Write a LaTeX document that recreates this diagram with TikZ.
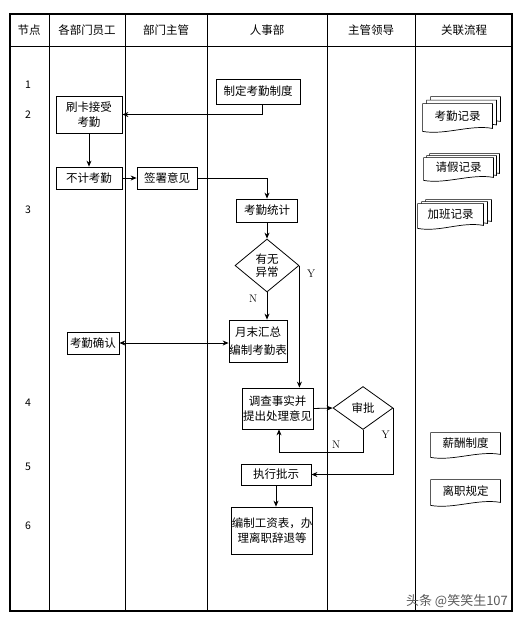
\documentclass[tikz,border=0pt]{standalone}
\usepackage{fontspec}
\newfontfamily\cjk{Noto Sans CJK SC}
\usetikzlibrary{arrows.meta,shapes.geometric,backgrounds}

% document outline round a node, shifted by #2
\newcommand{\docpath}[2]{([shift={#2}]#1.north west) -- ([shift={#2}]#1.north east) -- ([shift={#2}]#1.south east) .. controls ([shift={#2},shift={(-22pt,4pt)}]#1.south east) and ([shift={#2},shift={(22pt,-7pt)}]#1.south west) .. ([shift={#2},yshift=-3pt]#1.south west) -- cycle}

\begin{document}
\begin{tikzpicture}[x=1pt,y=-1pt,>={Stealth[length=6pt,width=5pt]},line width=0.8pt,
                    every node/.style={font=\cjk\fontsize{11.5}{14.5}\selectfont},
                    box/.style={draw,rectangle,inner sep=0pt,align=center},
                    dec/.style={draw,diamond,inner sep=0pt,align=center},
                    docbox/.style={rectangle,inner sep=0pt,align=center},
                    docline/.style={draw,fill=white,line width=0.7pt},
                    flow/.style={->},
                    yn/.style={font=\rmfamily\fontsize{11}{13}\selectfont}]
  \useasboundingbox (0,0) rectangle (521,622);

  % lanes
  \draw[line width=2pt] (10,14) rectangle (512,611);
  \draw (10,46) -- (512,46);
  \foreach \x in {49,125,207,327,415}
    \draw (\x,14) -- (\x,611);
  \foreach \x/\t/\n in {29/节点/jd, 87/各部门员工/yg, 166/部门主管/zg, 267/人事部/rs, 371/主管领导/ld, 464/关联流程/lc}
    \node (h\n) at (\x,30) {\t};
  \foreach \y/\n in {85/1,115/2,210/3,403/4,467/5,526/6}
    \node[font=\cjk\fontsize{10.5}{12}\selectfont] (n\n) at (28,\y) {\n};

  % steps
  \node[box,minimum width=84,minimum height=25] (zdzd) at (258,91.5) {制定考勤制度};
  \node[box,minimum width=66,minimum height=37] (skjs) at (89,114.5) {刷卡接受\\考勤};
  \node[box,minimum width=66,minimum height=22] (bjkq) at (89,178) {不计考勤};
  \node[box,minimum width=60,minimum height=22] (qsyj) at (167,178) {签署意见};
  \node[box,minimum width=61,minimum height=23] (kqtj) at (267,210.5) {考勤统计};
  \node[dec,minimum width=64,minimum height=53,font=\cjk\fontsize{11.5}{13}\selectfont] (ywyc) at (267,265.5) {有无\\异常};
  \node[box,minimum width=58,minimum height=42,font=\cjk\fontsize{11.5}{17.5}\selectfont] (ymhz) at (258,341) {月末汇总\\编制考勤表};
  \node[box,minimum width=52,minimum height=22] (kqqr) at (93,343) {考勤确认};
  \node[box,minimum width=71,minimum height=41] (dcss) at (277.5,408.5) {调查事实并\\提出处理意见};
  \node[dec,minimum width=60,minimum height=43] (shpi) at (363,408) {审批};
  \node[box,minimum width=70,minimum height=21] (zxps) at (276,474.5) {执行批示};
  \node[box,minimum width=78,minimum height=47] (bzgz) at (272,530.5) {编制工资表，办\\理离职辞退等};

  % documents
  \node[docbox,minimum width=69,minimum height=24] (kqjl) at (457.5,116) {考勤记录};
  \node[docbox,minimum width=69,minimum height=19] (qjjl) at (458.5,167.5) {请假记录};
  \node[docbox,minimum width=65,minimum height=21] (jbjl) at (450.5,214.5) {加班记录};
  \node[docbox,minimum width=69,minimum height=21] (xczd) at (465.5,443.5) {薪酬制度};
  \node[docbox,minimum width=69,minimum height=22] (lzgd) at (465.5,491) {离职规定};
  \begin{scope}[on background layer]
    \fill[white] (0,0) rectangle (521,622);
    \path[docline] \docpath{kqjl}{(8pt,7pt)};
    \path[docline] \docpath{kqjl}{(4pt,3.5pt)};
    \path[docline] \docpath{kqjl}{(0pt,0pt)};
    \path[docline] \docpath{qjjl}{(6pt,4pt)};
    \path[docline] \docpath{qjjl}{(3pt,2pt)};
    \path[docline] \docpath{qjjl}{(0pt,0pt)};
    \path[docline] \docpath{jbjl}{(8pt,4pt)};
    \path[docline] \docpath{jbjl}{(4pt,2pt)};
    \path[docline] \docpath{jbjl}{(0pt,0pt)};
    \path[docline] \docpath{xczd}{(0pt,0pt)};
    \path[docline] \docpath{lzgd}{(0pt,0pt)};
  \end{scope}

  % connectors
  \draw[flow] ([xshift=4pt]zdzd.south) |- (skjs.east);
  \draw[flow] (skjs) -- (bjkq);
  \draw[flow] (bjkq) -- (qsyj);
  \draw[flow] (qsyj.east) -| (kqtj.north);
  \draw[flow] (kqtj.south) -- (ywyc.north);
  \draw[flow] (ywyc.south) -- (ywyc.south |- ymhz.north) node[yn,pos=0.25,left=6pt] {N};
  \draw[flow] (ywyc.east) -- (ywyc.east |- dcss.north) node[yn,pos=0.07,right=4pt] {Y};
  \draw[<->] (kqqr.east) -- (kqqr.east -| ymhz.west);
  \draw[flow] (dcss.east) -- (shpi.west);
  \draw[flow] (shpi.south) -- ++(0,22) -| node[yn,pos=0.16,above] {N} ([xshift=1.5pt]dcss.south);
  \draw[flow] (shpi.east) |- node[yn,pos=0.2,left] {Y} (zxps.east);
  \draw[flow] (zxps.south) -- (zxps.south |- bzgz.north);

  \node[font=\cjk\fontsize{13}{15}\selectfont,text=black!65] (sy) at (457,601) {头条 @笑笑生107};
\end{tikzpicture}
\end{document}
